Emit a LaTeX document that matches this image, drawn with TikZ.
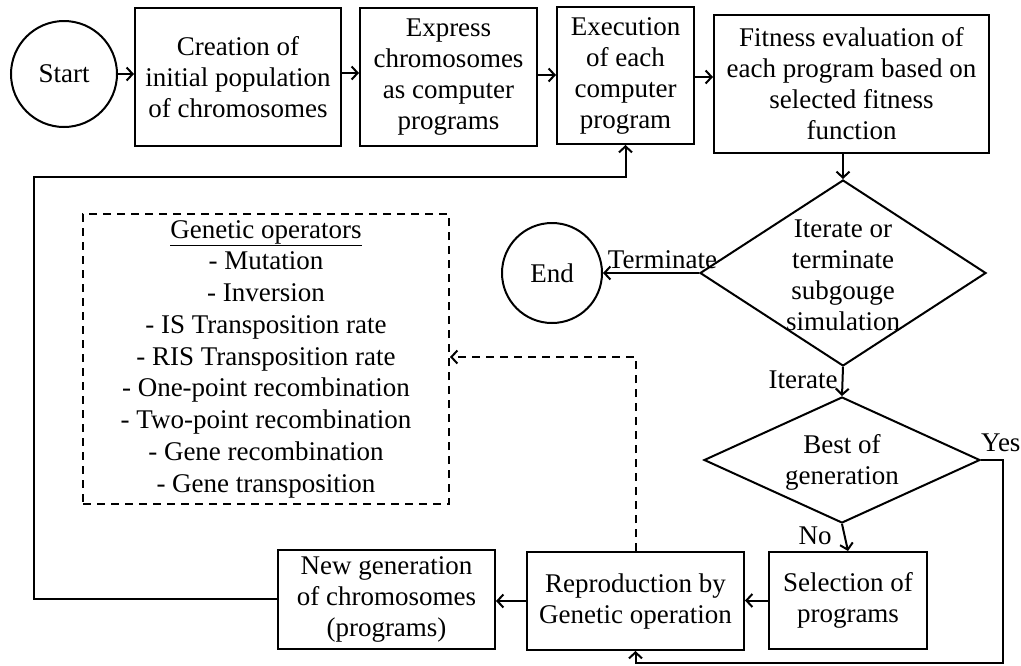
\documentclass[tikz,border=0pt]{standalone}
\usepackage{fontspec}
\setmainfont{Liberation Serif}
\usetikzlibrary{arrows.meta,shapes.geometric}

\begin{document}
\begin{tikzpicture}[x=1pt,y=-1pt,
  font=\fontsize{27}{31}\selectfont,
  every node/.style={inner sep=0pt, align=center},
  line/.style={line width=2pt},
  tip/.tip={Straight Barb[length=6pt,width=13pt,line width=2pt]},
  arr/.style={line, -tip},
  box/.style={draw, line width=2pt, rectangle},
  term/.style={draw, line width=2pt, circle},
  decision/.style={draw, line width=2pt, diamond},
  dashline/.style={line width=2pt, dash pattern=on 8pt off 6pt},
  lbl/.style={font=\fontsize{27}{31}\selectfont}
]
\useasboundingbox (0,0) rectangle (1021,665);

% top row
\node[term, minimum size=106pt] (start) at (64,74) {Start};
\node[box, minimum width=206pt, minimum height=138pt] (create) at (238,77)
  {Creation of\\initial population\\of chromosomes};
\node[box, minimum width=177pt, minimum height=138pt] (express) at (448.5,77)
  {Express\\chromosomes\\as computer\\programs};
\node[box, minimum width=137pt, minimum height=137pt] (exec) at (625.5,75.5)
  {Execution\\of each\\computer\\program};
\node[box, minimum width=275pt, minimum height=138pt] (fitness) at (851.5,84)
  {Fitness evaluation of\\each program based on\\selected fitness\\function};

% decisions
\node[decision, minimum width=286pt, minimum height=186pt] (iter) at (843,273) {};
\node (itertext) at (843,275) {Iterate or\\terminate\\subgouge\\simulation};
\node[term, minimum size=100pt] (end) at (552,273) {End};
\node[decision, minimum width=276pt, minimum height=126pt] (best) at (842,460) {};
\node (besttext) at (842,462) {Best of\\generation};

% bottom row
\node[box, minimum width=158pt, minimum height=97pt] (select) at (848,600.5)
  {Selection of\\programs};
\node[box, minimum width=217pt, minimum height=98pt] (repro) at (635.5,601)
  {Reproduction by\\Genetic operation};
\node[box, minimum width=217pt, minimum height=99pt] (newgen) at (386.5,599.5)
  {New generation\\of chromosomes\\(programs)};

% genetic operators list
\node[draw, dashline, rectangle, minimum width=366pt, minimum height=290pt,
      font=\fontsize{27}{31.75}\selectfont] (ops) at (266,359)
  {\underline{Genetic operators}\\- Mutation\\- Inversion\\- IS Transposition rate\\
   - RIS Transposition rate\\- One-point recombination\\- Two-point recombination\\
   - Gene recombination\\- Gene transposition};

% connectors along the top
\draw[arr] (start.east) -- (create.west |- start.east);
\draw[arr] (create.east |- 0,73) -- (express.west |- 0,73);
\draw[arr] (express.east |- 0,75) -- (exec.west |- 0,75);
\draw[arr] (exec.east |- 0,77) -- (fitness.west |- 0,77);
\draw[arr] (iter.north |- fitness.south) -- (iter.north);

% decision outcomes
\draw[arr] (iter.west) -- (end.east)
  node[pos=0.38, above=3pt, lbl] {Terminate};
\draw[arr] (iter.south) -- (best.north)
  node[pos=0.45, left=4pt, lbl] {Iterate};
\draw[arr] (best.south) -- (select.north)
  node[pos=0.45, left=12pt, lbl] {No};
\coordinate (yesA) at (1003,460);
\coordinate (yesB) at (1003,663);
\draw[arr] (best.east) -- (yesA) -- (yesB) -- (repro.south |- yesB) -- (repro.south);
\node[anchor=south west, lbl] at (981,452) {Yes};

% bottom row flow
\draw[arr] (select.west) -- (repro.east |- select.west);
\draw[arr] (repro.west) -- (newgen.east |- repro.west);

% loop back to execution
\coordinate (loopA) at (34,599);
\coordinate (loopB) at (34,177);
\draw[arr] (newgen.west |- loopA) -- (loopA) -- (loopB) -- (exec.south |- loopB) -- (exec.south);

% operators feed the reproduction step
\coordinate (dashA) at (repro.north |- 0,357);
\draw[dashline, -tip] (repro.north) -- (dashA) -- (ops.east |- dashA);
\end{tikzpicture}
\end{document}
